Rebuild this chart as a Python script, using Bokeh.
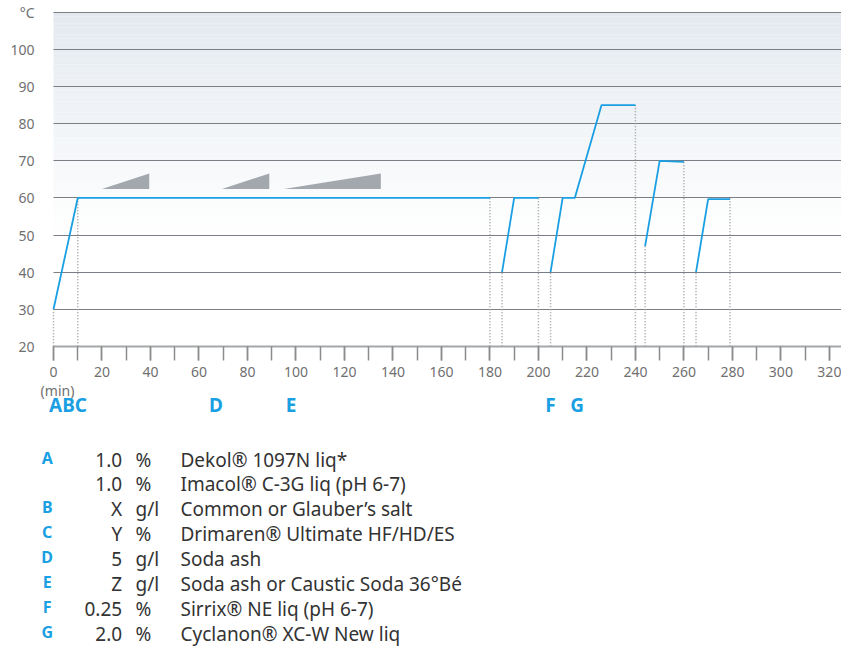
from bokeh.plotting import figure
from bokeh.models import Range1d, SingleIntervalTicker, FixedTicker, ColumnDataSource
from bokeh.layouts import column
from bokeh.embed import file_html
from bokeh.resources import INLINE
from bokeh.core.properties import value

# ---------------- data ----------------
seg_times = [[0, 10, 180], [185, 190, 200], [205, 210, 215, 226, 240], [244, 250, 260], [265, 270, 279]]
seg_temps = [[30, 60, 60], [40, 60, 60], [40, 60, 60, 85, 85], [47, 70, 69.7], [40, 59.7, 59.7]]
marker_times = [0, 10, 180, 185, 200, 205, 240, 244, 260, 265, 279]
marker_temps = [30, 60, 60, 40, 60, 40, 85, 47, 70, 40, 60]
dosing_start = [20, 69.5, 95]
dosing_end = [39.5, 89, 135]
dosing_low = 62.4
dosing_high = 66.6
step_labels = ["ABC", "D", "E", "F", "G"]
step_times = [6, 67, 98, 205, 216]
y_ticks = [20, 30, 40, 50, 60, 70, 80, 90, 100, 110]
y_unit = "°C"
x_unit = "(min)"

legend_letters = ["A", "", "B", "C", "D", "E", "F", "G"]
legend_amounts = ["1.0", "1.0", "X", "Y", "5", "Z", "0.25", "2.0"]
legend_units = ["%", "%", "g/l", "%", "g/l", "g/l", "%", "%"]
legend_products = ["Dekol® 1097N liq*", "Imacol® C-3G liq (pH 6-7)", "Common or Glauber’s salt",
                   "Drimaren® Ultimate HF/HD/ES", "Soda ash", "Soda ash or Caustic Soda 36°Bé",
                   "Sirrix® NE liq (pH 6-7)", "Cyclanon® XC-W New liq"]

# ---------------- style / layout ----------------
FONT = "Noto Sans"
BLUE = "#1a9fe3"
GRID = "#7a7f85"
LABEL = "#707070"
TEXT = "#333333"
W = 841
T_START, T_END = 0, 325          # time axis extent
Y_MIN, Y_MAX = 20, 110           # temperature axis extent
LEFT_PAD = 53                    # px left of t=0 for the y labels
X_LO = -LEFT_PAD * T_END / (W - LEFT_PAD)
PX_PER_DEG = 334 / 90
TOP = 3
Y_TOP = Y_MAX + 9 / PX_PER_DEG   # a little head room for the unit label
Y_LO = 0                         # room below the axis for "(min)" and the step letters
H1 = TOP + int(round((Y_TOP - Y_LO) * PX_PER_DEG))
H2 = 646 - H1
UNIT_Y = 8.1                     # text rows below the time axis (in axis units)
STEP_Y = 4.1

p = figure(width=W, height=H1, output_backend="svg", toolbar_location=None,
           x_range=Range1d(X_LO, T_END), y_range=Range1d(Y_LO, Y_TOP),
           min_border_left=0, min_border_right=0, min_border_top=TOP, min_border_bottom=0)
p.outline_line_color = None
p.background_fill_color = "white"
p.border_fill_color = "white"

# gradient background (style only)
top_rgb = (0xE3, 0xE9, 0xEF)
n_bands = 60
band_bottom = 50
bands_b, bands_t, bands_c = [], [], []
for i in range(n_bands):
    b = band_bottom + (Y_MAX - band_bottom) * i / n_bands
    t = band_bottom + (Y_MAX - band_bottom) * (i + 1) / n_bands
    f = (i + 0.5) / n_bands
    c = tuple(int(round(255 + (tc - 255) * f)) for tc in top_rgb)
    bands_b.append(b); bands_t.append(t); bands_c.append("#%02x%02x%02x" % c)
p.quad(left=T_START, right=T_END, bottom=bands_b, top=bands_t, fill_color=bands_c,
       line_color=None, level="image")

# grid
p.xgrid.visible = False
p.ygrid.ticker = FixedTicker(ticks=y_ticks)
try:
    p.ygrid.cross_bounds = (T_START, T_END)
    p.ygrid.grid_line_color = GRID
    p.ygrid.grid_line_width = 1.2
except Exception:
    p.ygrid.visible = False
    p.segment(x0=[T_START] * len(y_ticks), y0=y_ticks, x1=[T_END] * len(y_ticks), y1=y_ticks,
              line_color=GRID, line_width=1.2, level="underlay")

# dosing wedges
wedge_xs = [[s, e, e] for s, e in zip(dosing_start, dosing_end)]
wedge_ys = [[dosing_low, dosing_low, dosing_high] for _ in dosing_start]
p.patches(wedge_xs, wedge_ys, fill_color="#a3a8ae", line_color=None)

# dotted drop lines
p.segment(x0=marker_times, y0=[Y_MIN] * len(marker_times), x1=marker_times, y1=marker_temps,
          line_color="#9a9a9a", line_width=1.5, line_dash="1 2")

# temperature profile
p.multi_line(seg_times, seg_temps, line_color=BLUE, line_width=1.8)

# y axis (fixed at t = 0)
ya = p.yaxis[0]
ya.fixed_location = T_START
ya.ticker = FixedTicker(ticks=y_ticks)
ya.major_label_overrides = {Y_MAX: y_unit}
ya.axis_line_color = None
ya.major_tick_line_color = None
ya.minor_tick_line_color = None
ya.major_tick_out = 0
ya.major_tick_in = 0
ya.major_label_standoff = 19
ya.major_label_text_font = FONT
ya.major_label_text_font_size = "14px"
ya.major_label_text_color = LABEL

# x axis (fixed at 20 °C)
xa = p.xaxis[0]
xa.fixed_location = Y_MIN
xa.bounds = (T_START, T_END)
xa.ticker = SingleIntervalTicker(interval=20, num_minor_ticks=2)
xa.axis_line_color = "#a4a7aa"
xa.axis_line_width = 2
xa.major_tick_out = 14
xa.major_tick_in = 0
xa.minor_tick_out = 14
xa.minor_tick_in = 0
xa.major_tick_line_color = "#8c8c8c"
xa.minor_tick_line_color = "#8c8c8c"
xa.major_tick_line_width = 1.5
xa.minor_tick_line_width = 1.5
xa.major_label_standoff = 7
xa.major_label_text_font = FONT
xa.major_label_text_font_size = "14px"
xa.major_label_text_color = LABEL

# "(min)" under the 0 tick
p.text(x=[T_START], y=[UNIT_Y], text=[x_unit], x_offset=4, text_font=value(FONT),
       text_font_size="14px", text_color=LABEL, text_align="center", text_baseline="middle")

# step letters under the time axis
p.text(x=step_times, y=[STEP_Y] * len(step_times), text=step_labels, text_font=value(FONT),
       text_font_size="19px", text_font_style="bold", text_color=BLUE,
       text_align="center", text_baseline="middle")

# ---------------- legend table ----------------
q = figure(width=W, height=H2, output_backend="svg", toolbar_location=None,
           x_range=Range1d(0, W), y_range=Range1d(H2, 0),
           x_axis_location=None, y_axis_location=None,
           min_border_left=0, min_border_right=0, min_border_top=0, min_border_bottom=0)
q.grid.visible = False
q.outline_line_color = None
first_baseline = 459 - H1
row_y = [first_baseline + 24.9 * i for i in range(len(legend_products))]
src = ColumnDataSource(dict(y=row_y, ly=[y - 2 for y in row_y], letter=legend_letters,
                            amount=legend_amounts, unit=legend_units, product=legend_products))
q.text(x=46.7, y="ly", text="letter", source=src, text_font=value(FONT), text_font_size="16px",
       text_font_style="bold", text_color=BLUE, text_align="center", text_baseline="alphabetic")
q.text(x=121.7, y="y", text="amount", source=src, text_font=value(FONT), text_font_size="19px",
       text_color=TEXT, text_align="right", text_baseline="alphabetic")
q.text(x=135, y="y", text="unit", source=src, text_font=value(FONT), text_font_size="19px",
       text_color=TEXT, text_align="left", text_baseline="alphabetic")
q.text(x=180, y="y", text="product", source=src, text_font=value(FONT), text_font_size="19px",
       text_color=TEXT, text_align="left", text_baseline="alphabetic")

layout = column(p, q, spacing=0)
open("out.html", "w").write(file_html(layout, INLINE))
